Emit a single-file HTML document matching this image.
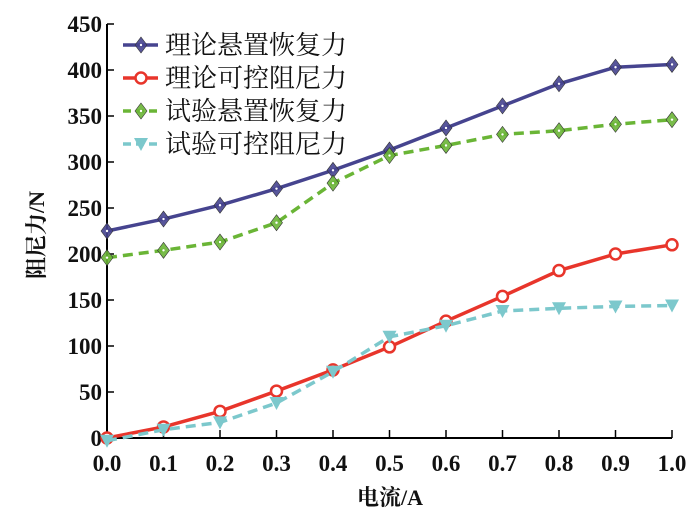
<!DOCTYPE html>
<html><head><meta charset="utf-8"><style>
html,body{margin:0;padding:0;background:#fff}
svg{display:block}
text{font-family:"Liberation Serif","Noto Serif CJK SC",serif;fill:#111}
</style></head><body>
<svg id="chart" width="700" height="519" viewBox="0 0 700 519" xmlns="http://www.w3.org/2000/svg"></svg>
<script>
const xValues=[0,0.1,0.2,0.3,0.4,0.5,0.6,0.7,0.8,0.9,1.0];
const theorySuspension=[225,238,253,271,291,313,337,361,385,403,406];
const theoryDamping=[0,12,29,51,74,99,127,154,182,200,210];
const testSuspension=[196,204,213,234,277,307,318,330,334,341,346];
const testDamping=[-3,9,17,38,72,110,122,138,141,143,144];
const xTicks=[0,0.1,0.2,0.3,0.4,0.5,0.6,0.7,0.8,0.9,1.0];
const yTicks=[0,50,100,150,200,250,300,350,400,450];
const seriesNames=["理论悬置恢复力","理论可控阻尼力","试验悬置恢复力","试验可控阻尼力"];

const NS="http://www.w3.org/2000/svg";
const svg=document.getElementById('chart');
const X0=107,X1=672,Y0=438,Y1=24;
const sx=v=>X0+(v-0)/(1.0)*(X1-X0);
const sy=v=>Y0-v/450*(Y0-Y1);
function el(tag,attrs,parent){const e=document.createElementNS(NS,tag);for(const k in attrs)e.setAttribute(k,attrs[k]);(parent||svg).appendChild(e);return e;}

const axes=el('g',{});


const ya=el('line',{x1:X0,y1:Y1,x2:X0,y2:Y0,stroke:'#000','stroke-width':2},axes);


const xa=el('line',{x1:X0,y1:Y0,x2:X1,y2:Y0,stroke:'#000','stroke-width':2},axes);


yTicks.forEach(t=>{
  el('line',{x1:X0,y1:sy(t),x2:X0+7,y2:sy(t),stroke:'#000','stroke-width':1.5},axes);
  const tx=el('text',{x:X0-5,y:sy(t)+8,'text-anchor':'end','font-size':23,'font-weight':'bold'},axes);
  tx.textContent=t;
  
  
});
xTicks.forEach(t=>{
  el('line',{x1:sx(t),y1:Y0,x2:sx(t),y2:Y0-8,stroke:'#000','stroke-width':1.5},axes);
  const tx=el('text',{x:sx(t),y:Y0+33,'text-anchor':'middle','font-size':23,'font-weight':'bold'},axes);
  tx.textContent=t.toFixed(1);
  
  
});
const xt=el('text',{x:390,y:505,'text-anchor':'middle','font-size':22,'font-weight':'bold'});
xt.textContent='电流/A';


const yt=el('text',{x:0,y:0,'text-anchor':'middle','font-size':22,'font-weight':'bold',transform:'translate(44,235) rotate(-90)'});
yt.textContent='阻尼力/N';



function marker(g,type,x,y,color){
  if(type==='diamond'){el('path',{d:`M${x} ${y-8}L${x+6} ${y}L${x} ${y+8}L${x-6} ${y}Z`,fill:color,stroke:'#333','stroke-width':0.6,'fill-opacity':0.9},g);el('circle',{cx:x,cy:y,r:1.2,fill:'#fff'},g);}
  else if(type==='circle'){el('circle',{cx:x,cy:y,r:5.5,fill:'#fff',stroke:color,'stroke-width':2.5},g);}
  else {el('path',{d:`M${x-7} ${y-6}L${x+7} ${y-6}L${x} ${y+7}Z`,fill:color},g);}
}
const series=[
 {name:'theory-suspension',vals:theorySuspension,color:'#46448f',dash:'',m:'diamond'},
 {name:'theory-damping',vals:theoryDamping,color:'#e8352b',dash:'',m:'circle'},
 {name:'test-suspension',vals:testSuspension,color:'#6ab536',dash:'10,6',m:'diamond'},
 {name:'test-damping',vals:testDamping,color:'#7cc8cc',dash:'10,6',m:'tri'}
];
series.forEach((s,i)=>{
  const g=el('g',{});
  
  
  const pts=s.vals.map((v,j)=>sx(xValues[j])+','+sy(v)).join(' ');
  const pl=el('polyline',{points:pts,fill:'none',stroke:s.color,'stroke-width':3.5,'stroke-dasharray':s.dash},g);
  
  
  s.vals.forEach((v,j)=>marker(g,s.m,sx(xValues[j]),sy(v),s.color));
  const lg=el('g',{});
  
  
  const ly=45+i*33;
  el('line',{x1:123,y1:ly,x2:158,y2:ly,stroke:s.color,'stroke-width':3.5,'stroke-dasharray':s.dash?'8,5':''},lg);
  marker(lg,s.m,141,ly,s.color);
  const t=el('text',{x:165,y:ly+9,'font-size':26},lg);
  t.textContent=seriesNames[i];
});
</script>
</body></html>
